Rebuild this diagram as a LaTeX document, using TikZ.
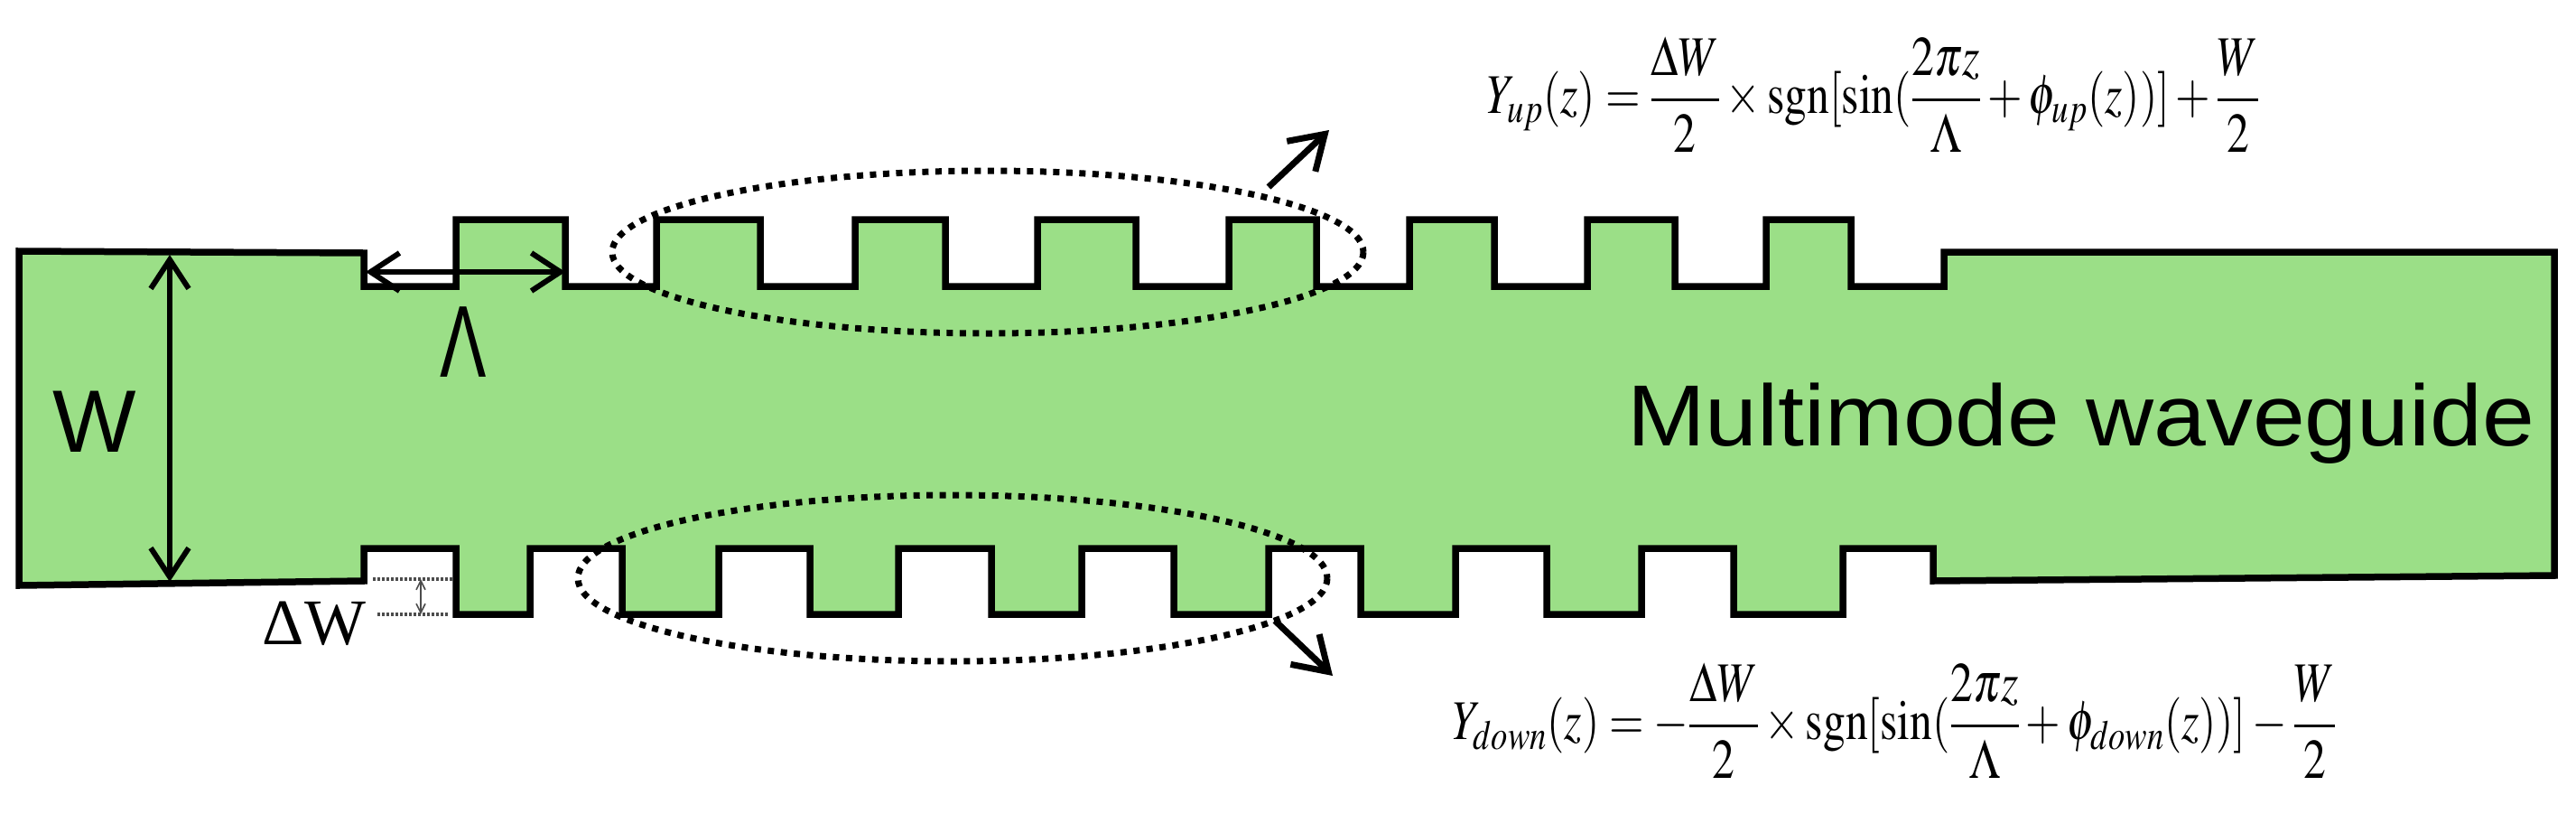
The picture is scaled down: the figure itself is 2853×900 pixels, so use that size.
\documentclass[tikz,border=0pt]{standalone}
\usepackage{graphicx}
\usepackage{amsmath}
\usepackage{mathptmx}
\usepackage{fontspec}
\newfontfamily\armain{Liberation Sans}
\newfontfamily\tmsmain{Liberation Serif}
\usetikzlibrary{arrows.meta}
\definecolor{wgfill}{HTML}{9BDF87}
\tikzset{
  txt/.style={inner sep=0pt,outer sep=0pt},
  outline/.style={draw=black,line width=7.5pt,line join=miter,fill=wgfill},
  dimthick/.style={line width=5.5pt,{Straight Barb[length=32pt,width=42pt,line width=6pt]}-{Straight Barb[length=32pt,width=42pt,line width=6pt]}},
  ringdots/.style={draw=black,line width=7pt,dash pattern=on 7pt off 7.5pt},
  callout/.style={line width=7pt,-{Straight Barb[length=36pt,width=46pt,line width=7pt]}},
  tinydots/.style={draw=black!70,line width=4pt,dash pattern=on 2.5pt off 2.5pt},
  tinydim/.style={draw=black!70,line width=1.6pt,{Straight Barb[length=10pt,width=10pt,line width=1.6pt]}-{Straight Barb[length=10pt,width=10pt,line width=1.6pt]}}
}
\begin{document}
\begin{tikzpicture}[x=1pt,y=-1pt]
\useasboundingbox (0,0) rectangle (2853,900);
% waveguide outline
\path[outline]
 (21,278) -- (403,280) -- (403,317) -- (505,317) -- (505,243) -- (626,243) -- (626,317)
 -- (727,317) -- (727,243) -- (842,243) -- (842,317)
 -- (947,317) -- (947,243) -- (1047,243) -- (1047,317)
 -- (1149,317) -- (1149,243) -- (1258,243) -- (1258,317)
 -- (1361,317) -- (1361,243) -- (1458,243) -- (1458,317)
 -- (1561,317) -- (1561,243) -- (1655,243) -- (1655,317)
 -- (1758,317) -- (1758,243) -- (1855,243) -- (1855,317)
 -- (1956,317) -- (1956,243) -- (2050,243) -- (2050,317)
 -- (2153,317) -- (2153,279) -- (2829,279) -- (2829,637)
 -- (2141,643) -- (2141,607) -- (2041,607) -- (2041,680) -- (1920,680) -- (1920,607)
 -- (1818,607) -- (1818,680) -- (1713,680) -- (1713,607)
 -- (1612,607) -- (1612,680) -- (1507,680) -- (1507,607)
 -- (1405,607) -- (1405,680) -- (1300,680) -- (1300,607)
 -- (1198,607) -- (1198,680) -- (1098,680) -- (1098,607)
 -- (995,607) -- (995,680) -- (897,680) -- (897,607)
 -- (796,607) -- (796,680) -- (689,680) -- (689,607)
 -- (587,607) -- (587,680) -- (505,680) -- (505,607)
 -- (403,607) -- (403,643) -- (21,648) -- cycle;
% dimension anchors
\coordinate (wtop) at (188,282);
\coordinate (wbot) at (188,644);
\coordinate (lamL) at (405,301);
\coordinate (lamR) at (626,301);
\coordinate (upFrom) at (1405,207);
\coordinate (upTo) at (1472,144);
\coordinate (dnFrom) at (1412,687);
\coordinate (dnTo) at (1476,748);
\coordinate (d1L) at (413,641);
\coordinate (d1R) at (502,641);
\coordinate (d2L) at (418,680);
\coordinate (d2R) at (497,680);
\coordinate (dmT) at (466,641);
\coordinate (dmB) at (466,680);
% dimensions
\draw[dimthick] (wtop) -- (wbot);
\draw[dimthick] (lamL) -- (lamR);
\draw[tinydots] (d1L) -- (d1R);
\draw[tinydots] (d2L) -- (d2R);
\draw[tinydim] (dmT) -- (dmB);
% dotted rings
\draw[ringdots] (1094,279) ellipse [x radius=416,y radius=90];
\draw[ringdots] (1055,640) ellipse [x radius=415,y radius=92];
\draw[callout] (upFrom) -- (upTo);
\draw[callout] (dnFrom) -- (dnTo);
% labels
\node[txt] (labW) at (105,467) {\armain\fontsize{98}{98}\selectfont W};
\node[txt] (labLam) at (513,379) {\scalebox{.68}[1]{\armain\fontsize{113}{113}\selectfont Λ}};
\node[txt,anchor=base east] (labDW) at (405,713) {\tmsmain\fontsize{72}{72}\selectfont ΔW};
\node[txt,anchor=base west] (labMM) at (1802,493) {\scalebox{1.083}[1]{\armain\fontsize{96}{96}\selectfont Multimode waveguide}};
\node[txt] (eqUp) at (2074.5,105) {\scalebox{.8}[1]{\fontsize{62}{70}\selectfont $\displaystyle Y_{up}(z)=\frac{\Delta W}{2}\times\mathrm{sgn}[\sin(\frac{2\pi z}{\Lambda}+\phi_{up}(z))]+\frac{W}{2}$}};
\node[txt] (eqDn) at (2098,798) {\scalebox{.8}[1]{\fontsize{62}{70}\selectfont $\displaystyle Y_{down}(z)=-\frac{\Delta W}{2}\times\mathrm{sgn}[\sin(\frac{2\pi z}{\Lambda}+\phi_{down}(z))]-\frac{W}{2}$}};
\end{tikzpicture}
\end{document}
